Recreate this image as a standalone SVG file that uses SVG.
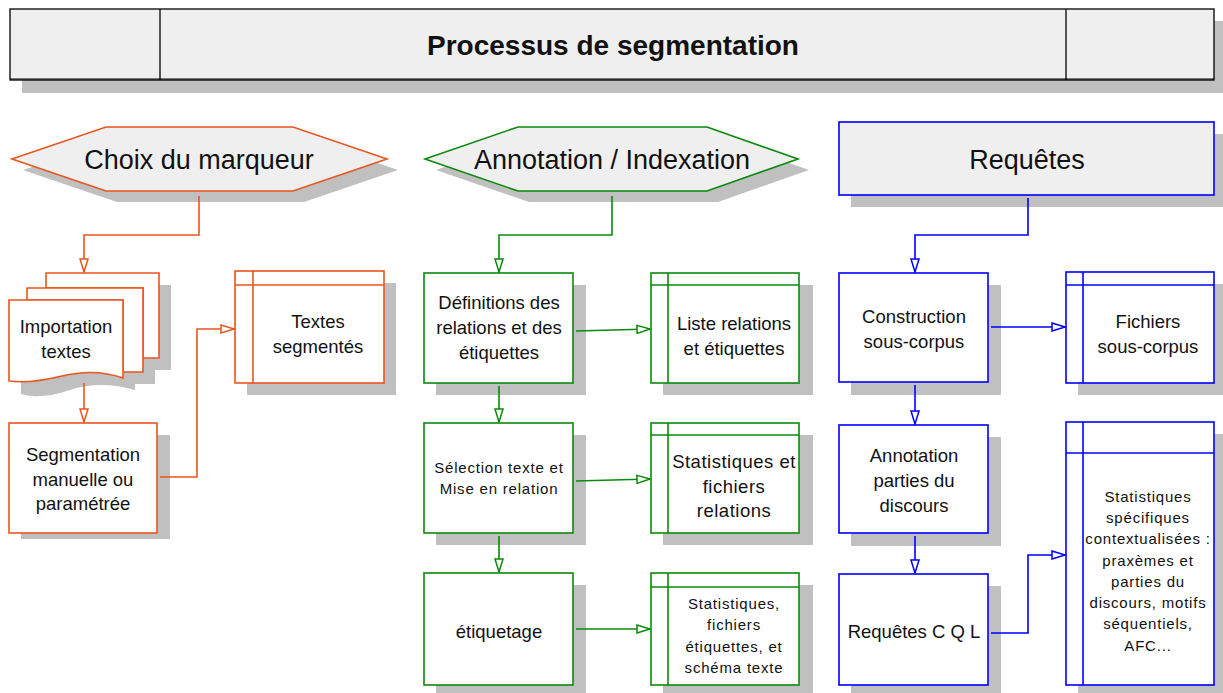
<svg xmlns="http://www.w3.org/2000/svg" width="1223" height="693" viewBox="0 0 1223 693">
<defs>
<style>
text{font-family:"Liberation Sans",Arial,sans-serif;fill:#111;text-anchor:middle}
.sh{fill:#c0c0c0}
.o{stroke:#e8561e;stroke-width:1.6;fill:#fff}
.g{stroke:#0a8a0a;stroke-width:1.6;fill:#fff}
.b{stroke:#0000ff;stroke-width:1.6;fill:#fff}
.hd{fill:#efefef}
.lo{stroke:#e8561e;stroke-width:1.6;fill:none}
.lg{stroke:#0a8a0a;stroke-width:1.6;fill:none}
.lb{stroke:#0000ff;stroke-width:1.6;fill:none}
.t27{font-size:27px}
.t18{font-size:18.5px}
.t15{font-size:15px;letter-spacing:0.8px}
</style>
<marker id="ao" viewBox="0 0 15 10" refX="14" refY="5" markerWidth="15" markerHeight="10" markerUnits="userSpaceOnUse" orient="auto"><path d="M1,1 L14,5 L1,9 Z" fill="#fff" stroke="#e8561e" stroke-width="1.5"/></marker>
<marker id="ag" viewBox="0 0 15 10" refX="14" refY="5" markerWidth="15" markerHeight="10" markerUnits="userSpaceOnUse" orient="auto"><path d="M1,1 L14,5 L1,9 Z" fill="#fff" stroke="#0a8a0a" stroke-width="1.5"/></marker>
<marker id="ab" viewBox="0 0 15 10" refX="14" refY="5" markerWidth="15" markerHeight="10" markerUnits="userSpaceOnUse" orient="auto"><path d="M1,1 L14,5 L1,9 Z" fill="#fff" stroke="#0000ff" stroke-width="1.5"/></marker>
</defs>
<rect width="1223" height="693" fill="#fff"/>

<g id="title">
<rect class="sh" x="22" y="21" width="1205" height="72"/>
<rect x="10" y="9" width="1204" height="71" fill="#efefef" stroke="#000" stroke-width="1.3"/>
<line x1="10" y1="79" x2="1214" y2="79" stroke="#000" stroke-width="1"/>
<line x1="160" y1="9" x2="160" y2="80" stroke="#000" stroke-width="1.3"/>
<line x1="1066" y1="9" x2="1066" y2="80" stroke="#000" stroke-width="1.3"/>
<text x="613" y="55" font-size="28" font-weight="bold">Processus de segmentation</text>
</g>

<g id="choix">
<polygon class="sh" points="23,170 117,138 304,138 398,170 304,202 117,202"/>
<polygon class="o hd" points="12,159 106,127 293,127 387,159 293,191 106,191"/>
<text class="t27" x="199" y="169">Choix du marqueur</text>
</g>

<g id="annotation">
<polygon class="sh" points="436,170 529,138 718,138 809,170 718,202 529,202"/>
<polygon class="g hd" points="425,159 518,127 707,127 798,159 707,191 518,191"/>
<text class="t27" x="612" y="169">Annotation / Indexation</text>
</g>

<g id="requetes">
<rect class="sh" x="851" y="134" width="380" height="73"/>
<rect class="b hd" x="839" y="122" width="375" height="73"/>
<text class="t27" x="1027" y="169">Requêtes</text>
</g>

<g id="importation">
<path class="sh" d="M58,285 H171 V370 H155 V384 H135 V390 Q100,380 70,390 T21,394 V312 H39 V300 H58 Z"/>
<path class="o" d="M46,273 H159 V358 H143 V288 H46 Z"/>
<path class="o" d="M27,288 H143 V372 H123 V300 H27 Z"/>
<path class="o" d="M9,300 H123 V378 Q95,368 62,376 T9,381 Z"/>
<text class="t18" x="66" y="333">Importation</text>
<text class="t18" x="66" y="358">textes</text>
</g>

<g id="segmentation">
<rect class="sh" x="21" y="435" width="149" height="104"/>
<rect class="o" x="9" y="423" width="148" height="110"/>
<text class="t18" x="83" y="461">Segmentation</text>
<text class="t18" x="83" y="486">manuelle ou</text>
<text class="t18" x="83" y="510">paramétrée</text>
</g>

<g id="textes-segmentes">
<rect class="sh" x="247" y="283" width="149" height="112"/>
<rect class="o" x="235" y="271" width="149" height="112"/>
<line class="lo" x1="235" y1="285" x2="384" y2="285"/>
<line class="lo" x1="253" y1="271" x2="253" y2="383"/>
<text class="t18" x="318" y="328">Textes</text>
<text class="t18" x="318" y="353">segmentés</text>
</g>

<g id="definitions">
<rect class="sh" x="436" y="285" width="150" height="110"/>
<rect class="g" x="424" y="273" width="149" height="110"/>
<text class="t18" x="499" y="309">Définitions des</text>
<text class="t18" x="499" y="334">relations et des</text>
<text class="t18" x="499" y="359">étiquettes</text>
</g>

<g id="liste-relations">
<rect class="sh" x="663" y="285" width="150" height="110"/>
<rect class="g" x="651" y="273" width="148" height="110"/>
<line class="lg" x1="651" y1="285" x2="799" y2="285"/>
<line class="lg" x1="668" y1="273" x2="668" y2="383"/>
<text class="t18" x="734" y="330">Liste relations</text>
<text class="t18" x="734" y="355">et étiquettes</text>
</g>

<g id="selection">
<rect class="sh" x="436" y="435" width="150" height="110"/>
<rect class="g" x="424" y="423" width="149" height="110"/>
<text class="t15" x="499" y="473">Sélection texte et</text>
<text class="t15" x="499" y="494">Mise en relation</text>
</g>

<g id="stats-relations">
<rect class="sh" x="663" y="435" width="150" height="110"/>
<rect class="g" x="651" y="423" width="148" height="110"/>
<line class="lg" x1="651" y1="435" x2="799" y2="435"/>
<line class="lg" x1="668" y1="423" x2="668" y2="533"/>
<text class="t18" x="734" y="468" letter-spacing="0.5">Statistiques et</text>
<text class="t18" x="734" y="493" letter-spacing="0.5">fichiers</text>
<text class="t18" x="734" y="517" letter-spacing="0.5">relations</text>
</g>

<g id="etiquetage">
<rect class="sh" x="436" y="585" width="150" height="112"/>
<rect class="g" x="424" y="573" width="149" height="112"/>
<text class="t18" x="499" y="638">étiquetage</text>
</g>

<g id="stats-etiquettes">
<rect class="sh" x="663" y="585" width="150" height="112"/>
<rect class="g" x="651" y="573" width="148" height="112"/>
<line class="lg" x1="651" y1="587" x2="799" y2="587"/>
<line class="lg" x1="668" y1="573" x2="668" y2="685"/>
<text class="t15" x="734" y="609">Statistiques,</text>
<text class="t15" x="734" y="630">fichiers</text>
<text class="t15" x="734" y="652">étiquettes, et</text>
<text class="t15" x="734" y="673">schéma texte</text>
</g>

<g id="construction">
<rect class="sh" x="851" y="285" width="150" height="110"/>
<rect class="b" x="839" y="273" width="149" height="109"/>
<text class="t18" x="914" y="323">Construction</text>
<text class="t18" x="914" y="348">sous-corpus</text>
</g>

<g id="fichiers-sous-corpus">
<rect class="sh" x="1078" y="284" width="150" height="111"/>
<rect class="b" x="1066" y="272" width="148" height="111"/>
<line class="lb" x1="1066" y1="285" x2="1214" y2="285"/>
<line class="lb" x1="1083" y1="272" x2="1083" y2="383"/>
<text class="t18" x="1148" y="328">Fichiers</text>
<text class="t18" x="1148" y="353">sous-corpus</text>
</g>

<g id="annotation-discours">
<rect class="sh" x="851" y="437" width="150" height="109"/>
<rect class="b" x="839" y="425" width="149" height="108"/>
<text class="t18" x="914" y="462">Annotation</text>
<text class="t18" x="914" y="487">parties du</text>
<text class="t18" x="914" y="512">discours</text>
</g>

<g id="requetes-cql">
<rect class="sh" x="851" y="586" width="150" height="111"/>
<rect class="b" x="839" y="574" width="149" height="111"/>
<text class="t18" x="914" y="638">Requêtes C Q L</text>
</g>

<g id="stats-specifiques">
<rect class="sh" x="1078" y="434" width="150" height="263"/>
<rect class="b" x="1066" y="422" width="148" height="263"/>
<line class="lb" x1="1066" y1="453" x2="1214" y2="453"/>
<line class="lb" x1="1083" y1="422" x2="1083" y2="685"/>
<text class="t15" x="1148" y="502">Statistiques</text>
<text class="t15" x="1148" y="523">spécifiques</text>
<text class="t15" x="1148" y="544">contextualisées :</text>
<text class="t15" x="1148" y="566">praxèmes et</text>
<text class="t15" x="1148" y="587">parties du</text>
<text class="t15" x="1148" y="608">discours, motifs</text>
<text class="t15" x="1148" y="629">séquentiels,</text>
<text class="t15" x="1148" y="651">AFC...</text>
</g>

<g id="connectors">
<path class="lo" d="M199,196 V235 H84 V272" marker-end="url(#ao)"/>
<path class="lo" d="M84,383 V422" marker-end="url(#ao)"/>
<path class="lo" d="M160,477 H197 V329 H234" marker-end="url(#ao)"/>
<path class="lg" d="M612,196 V235 H499 V272" marker-end="url(#ag)"/>
<path class="lg" d="M576,331 L650,329" marker-end="url(#ag)"/>
<path class="lg" d="M499,386 V422" marker-end="url(#ag)"/>
<path class="lg" d="M576,481 L650,479" marker-end="url(#ag)"/>
<path class="lg" d="M499,536 V572" marker-end="url(#ag)"/>
<path class="lg" d="M576,629 H650" marker-end="url(#ag)"/>
<path class="lb" d="M1028,198 V235 H915 V272" marker-end="url(#ab)"/>
<path class="lb" d="M991,327 H1065" marker-end="url(#ab)"/>
<path class="lb" d="M915,385 V424" marker-end="url(#ab)"/>
<path class="lb" d="M915,536 V573" marker-end="url(#ab)"/>
<path class="lb" d="M991,633 H1028 V555 H1065" marker-end="url(#ab)"/>
</g>
</svg>
